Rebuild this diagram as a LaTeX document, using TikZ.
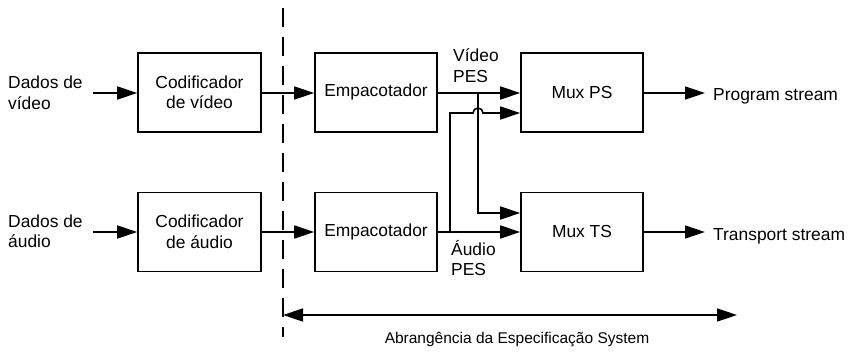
\documentclass[tikz,border=0pt]{standalone}
\usepackage{fontspec}
\setmainfont{Liberation Sans}
\usetikzlibrary{arrows.meta}
\tikzset{
  blk/.style={draw, line width=1.6pt, inner sep=0pt, minimum width=123pt, minimum height=79pt, font=\fontsize{17.4}{20.5}\selectfont, align=center},
  lbl/.style={inner sep=0pt, font=\fontsize{17.4}{20.5}\selectfont},
  conn/.style={line width=1.6pt, -{Triangle[length=20pt,width=13pt]}},
  dbl/.style={line width=1.6pt, {Triangle[length=20pt,width=13pt]}-{Triangle[length=20pt,width=13pt]}},
  scope line/.style={line width=1.6pt, dash pattern=on 19pt off 10pt},
}
\begin{document}
\begin{tikzpicture}[x=1pt,y=-1pt]
\useasboundingbox (0,0) rectangle (850,353);
% blocks
\node[blk] (enc1) at (199.5,92.5) {Codificador\\de vídeo};
\node[blk] (enc2) at (199.5,232) {Codificador\\de áudio};
\node[blk, minimum width=122pt] (pak1) at (376,92.5) {Empacotador};
\node[blk, minimum width=122pt] (pak2) at (376,232) {Empacotador};
\node[blk, minimum width=122pt] (muxps) at (582,92.5) {Mux PS};
\node[blk, minimum width=122pt] (muxts) at (582,232) {Mux TS};
% input labels
\node[lbl, align=left, anchor=west] (invid) at (8,93) {Dados de\\vídeo};
\node[lbl, align=left, anchor=west] (inaud) at (8,231.5) {Dados de\\áudio};
\coordinate (sv) at (93,93);
\coordinate (sa) at (93,232);
% output labels
\node[lbl, anchor=base west] (ps) at (713,100) {Program stream};
\node[lbl, anchor=base west] (ts) at (713,240.5) {Transport stream};
\coordinate (eps) at (705,93);
\coordinate (ets) at (705,232);
% PES labels
\node[lbl, align=left, anchor=west] (vpes) at (453,65.5) {Vídeo\\PES};
\node[lbl, align=left, anchor=west] (apes) at (451,258) {Áudio\\PES};
% branch points
\coordinate (bv) at (478,93);
\coordinate (ba) at (450,232);
% connectors
\draw[conn] (sv) -- (enc1.west |- sv);
\draw[conn] (sa) -- (enc2.west |- sa);
\draw[conn] (enc1.east |- sv) -- (pak1.west |- sv);
\draw[conn] (enc2.east |- sa) -- (pak2.west |- sa);
\draw[conn] (pak1.east |- sv) -- (muxps.west |- sv);
\draw[conn] (pak2.east |- sa) -- (muxts.west |- sa);
\draw[conn] (bv) -- (478,213) -- (muxts.west |- 0,213);
\draw[conn] (ba) -- (450,113) -- (473,113) arc[start angle=180, end angle=0, radius=5pt] -- (muxps.west |- 0,113);
\draw[conn] (muxps.east |- sv) -- (eps);
\draw[conn] (muxts.east |- sa) -- (ets);
% scope
\coordinate (dtop) at (283,8);
\coordinate (dbot) at (283,337);
\draw[scope line] (dtop) -- (dbot);
\coordinate (al) at (283,315);
\coordinate (ar) at (737,315);
\draw[dbl] (al) -- (ar);
\node[lbl, anchor=base, font=\fontsize{15.5}{18}\selectfont] (scope) at (517,343) {Abrangência da Especificação System};
\end{tikzpicture}
\end{document}
